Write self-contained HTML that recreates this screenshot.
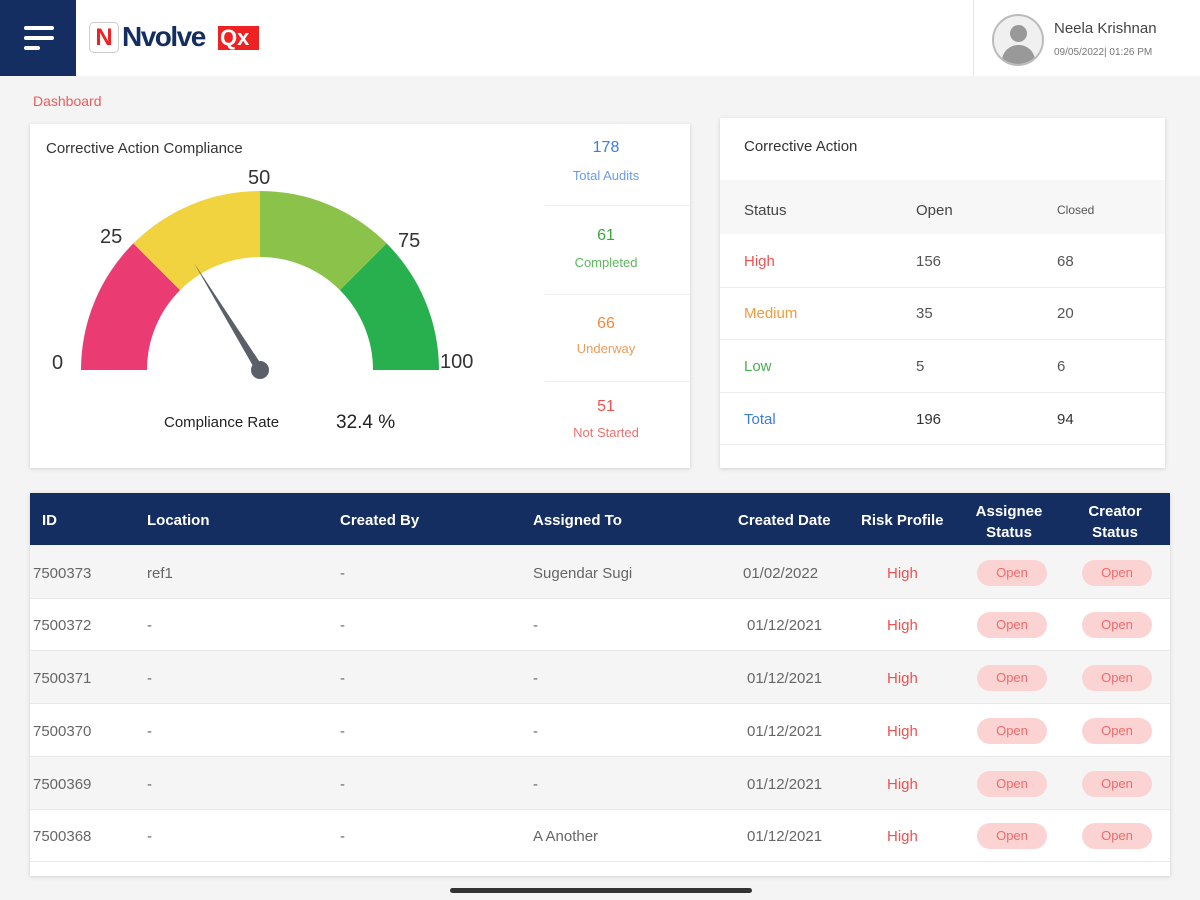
<!DOCTYPE html>
<html><head><meta charset="utf-8"><style>
*{margin:0;padding:0;box-sizing:border-box}
body{width:1200px;height:900px;background:#f4f4f4;font-family:"Liberation Sans",sans-serif;position:relative;overflow:hidden;color:#333}
.abs{position:absolute}
.hdr{left:0;top:0;width:1200px;height:76px;background:#fff}
.menu{left:0;top:0;width:76px;height:76px;background:#152e62}
.bar{background:#fff;height:4px;border-radius:2px;position:absolute;left:24px}
.card{background:#fff;box-shadow:0 1px 4px rgba(0,0,0,.15)}
.t{position:absolute;white-space:nowrap}
.pill{position:absolute;width:70px;height:26px;border-radius:13px;background:#fcd3d3;color:#f06a6a;font-size:13px;text-align:center;line-height:26px}
</style></head><body>
<div class="abs hdr"></div>
<div class="abs menu"><div class="bar" style="top:26px;width:30px"></div><div class="bar" style="top:36px;width:30px"></div><div class="bar" style="top:46px;width:16px"></div></div>
<div class="abs" style="left:89px;top:22px;width:30px;height:31px;border:1px solid #ccc;border-radius:5px;background:#fff;color:#e22;font-weight:bold;font-size:24px;text-align:center;line-height:30px">N</div>
<div class="t" style="left:122px;top:21px;font-size:28px;font-weight:bold;color:#152e62;letter-spacing:-1.5px">Nvolve</div>
<div class="t" style="left:218px;top:26px;width:41px;height:24px;background:#e22;color:#fff;font-size:22px;font-weight:bold;line-height:24px;padding-left:2px">Qx</div>
<div class="abs" style="left:973px;top:0;width:1px;height:76px;background:#e6e6e6"></div>
<div class="abs" style="left:992px;top:14px;width:52px;height:52px;border-radius:50%;border:2px solid #bbb;background:#f0f0f0;overflow:hidden"><div class="abs" style="left:16px;top:9px;width:17px;height:17px;border-radius:50%;background:#999"></div><div class="abs" style="left:8px;top:29px;width:33px;height:24px;border-radius:16px 16px 0 0;background:#999"></div></div>
<div class="t" style="left:1054px;top:20px;font-size:15px;color:#444">Neela Krishnan</div>
<div class="t" style="left:1054px;top:47px;font-size:10px;color:#777">09/05/2022| 01:26 PM</div>
<div class="t" style="left:33px;top:93px;font-size:14px;color:#f05a5a">Dashboard</div>

<div class="abs card" style="left:30px;top:124px;width:660px;height:344px"></div>
<div class="t" style="left:46px;top:140px;font-size:15px;color:#333">Corrective Action Compliance</div>
<svg class="abs" style="left:30px;top:124px" width="520" height="344">
<g transform="translate(230,246)">
<path d="M-179,0 A179,179 0 0 1 -126.6,-126.6 L-79.9,-79.9 A113,113 0 0 0 -113,0Z" fill="#ea3c73"/>
<path d="M-126.6,-126.6 A179,179 0 0 1 0,-179 L0,-113 A113,113 0 0 0 -79.9,-79.9Z" fill="#f0d33e"/>
<path d="M0,-179 A179,179 0 0 1 126.6,-126.6 L79.9,-79.9 A113,113 0 0 0 0,-113Z" fill="#8bc34a"/>
<path d="M126.6,-126.6 A179,179 0 0 1 179,0 L113,0 A113,113 0 0 0 79.9,-79.9Z" fill="#28b04e"/>
<polygon points="-66,-107 -3,3 3,-3" fill="#5a5f68"/>
<circle cx="0" cy="0" r="9" fill="#5a5f68"/>
</g>
<g font-size="20" fill="#333" font-family="Liberation Sans,sans-serif">
<text x="22" y="245">0</text><text x="70" y="119">25</text><text x="218" y="60">50</text><text x="368" y="123">75</text><text x="410" y="244">100</text>
</g>
<text x="134" y="303" font-size="15" fill="#222" font-family="Liberation Sans,sans-serif">Compliance Rate</text>
<text x="306" y="304" font-size="19" fill="#222" font-family="Liberation Sans,sans-serif">32.4 %</text>
</svg>
<div class="abs" style="left:545px;top:205px;width:145px;height:1px;background:#eee"></div>
<div class="abs" style="left:545px;top:294px;width:145px;height:1px;background:#eee"></div>
<div class="abs" style="left:545px;top:381px;width:145px;height:1px;background:#eee"></div>
<div class="t" style="left:545px;width:122px;text-align:center;top:139px;font-size:16px;color:#3b7ddd">178</div>
<div class="t" style="left:545px;width:122px;text-align:center;top:168px;font-size:13px;color:#6b9ce6">Total Audits</div>
<div class="t" style="left:545px;width:122px;text-align:center;top:227px;font-size:16px;color:#3aa640">61</div>
<div class="t" style="left:545px;width:122px;text-align:center;top:255px;font-size:13px;color:#5cb85c">Completed</div>
<div class="t" style="left:545px;width:122px;text-align:center;top:315px;font-size:16px;color:#f08a3c">66</div>
<div class="t" style="left:545px;width:122px;text-align:center;top:341px;font-size:13px;color:#f39a5a">Underway</div>
<div class="t" style="left:545px;width:122px;text-align:center;top:398px;font-size:16px;color:#f05050">51</div>
<div class="t" style="left:545px;width:122px;text-align:center;top:425px;font-size:13px;color:#f07070">Not Started</div>

<div class="abs card" style="left:720px;top:118px;width:445px;height:350px"></div>
<div class="t" style="left:744px;top:138px;font-size:15px;color:#333">Corrective Action</div>
<div class="abs" style="left:720px;top:180px;width:445px;height:54px;background:#f7f7f7"></div>
<div class="t" style="left:744px;top:202px;font-size:15px;color:#444">Status</div>
<div class="t" style="left:916px;top:202px;font-size:15px;color:#444">Open</div>
<div class="t" style="left:1057px;top:203px;font-size:12px;color:#555">Closed</div>
<div class="abs" style="left:720px;top:287px;width:445px;height:1px;background:#eee"></div>
<div class="abs" style="left:720px;top:339px;width:445px;height:1px;background:#eee"></div>
<div class="abs" style="left:720px;top:392px;width:445px;height:1px;background:#eee"></div>
<div class="abs" style="left:720px;top:444px;width:445px;height:1px;background:#eee"></div>
<div class="t" style="left:744px;top:253px;font-size:15px;color:#f05050">High</div><div class="t" style="left:916px;top:253px;font-size:15px;color:#555">156</div><div class="t" style="left:1057px;top:253px;font-size:15px;color:#555">68</div>
<div class="t" style="left:744px;top:305px;font-size:15px;color:#f39a3c">Medium</div><div class="t" style="left:916px;top:305px;font-size:15px;color:#555">35</div><div class="t" style="left:1057px;top:305px;font-size:15px;color:#555">20</div>
<div class="t" style="left:744px;top:358px;font-size:15px;color:#4caf50">Low</div><div class="t" style="left:916px;top:358px;font-size:15px;color:#555">5</div><div class="t" style="left:1057px;top:358px;font-size:15px;color:#555">6</div>
<div class="t" style="left:744px;top:411px;font-size:15px;color:#3b7ddd">Total</div><div class="t" style="left:916px;top:411px;font-size:15px;color:#333">196</div><div class="t" style="left:1057px;top:411px;font-size:15px;color:#333">94</div>

<div class="abs card" style="left:30px;top:493px;width:1140px;height:383px"></div>
<div class="abs" style="left:30px;top:493px;width:1140px;height:52px;background:#152e62"></div>
<div style="color:#fff;font-size:15px;font-weight:bold">
<div class="t" style="left:42px;top:512px">ID</div>
<div class="t" style="left:147px;top:512px">Location</div>
<div class="t" style="left:340px;top:512px">Created By</div>
<div class="t" style="left:533px;top:512px">Assigned To</div>
<div class="t" style="left:738px;top:512px">Created Date</div>
<div class="t" style="left:861px;top:512px">Risk Profile</div>
<div class="t" style="left:974px;top:501px;text-align:center;width:70px;line-height:21px">Assignee<br>Status</div>
<div class="t" style="left:1080px;top:501px;text-align:center;width:70px;line-height:21px">Creator<br>Status</div>
</div>
<div class="abs" style="left:30px;top:545px;width:1140px;height:53px;background:#f5f5f5"></div>
<div class="abs" style="left:30px;top:650px;width:1140px;height:53px;background:#f5f5f5"></div>
<div class="abs" style="left:30px;top:756px;width:1140px;height:53px;background:#f5f5f5"></div>
<div class="abs" style="left:30px;top:598px;width:1140px;height:1px;background:#e8e8e8"></div>
<div class="abs" style="left:30px;top:650px;width:1140px;height:1px;background:#e8e8e8"></div>
<div class="abs" style="left:30px;top:703px;width:1140px;height:1px;background:#e8e8e8"></div>
<div class="abs" style="left:30px;top:756px;width:1140px;height:1px;background:#e8e8e8"></div>
<div class="abs" style="left:30px;top:809px;width:1140px;height:1px;background:#e8e8e8"></div>
<div class="abs" style="left:30px;top:861px;width:1140px;height:1px;background:#e8e8e8"></div>
<div style="font-size:15px;color:#666">
<div class="t" style="left:33px;top:565px">7500373</div><div class="t" style="left:147px;top:565px">ref1</div><div class="t" style="left:340px;top:565px">-</div><div class="t" style="left:533px;top:565px">Sugendar Sugi</div><div class="t" style="left:743px;top:565px">01/02/2022</div>
<div class="t" style="left:33px;top:617px">7500372</div><div class="t" style="left:147px;top:617px">-</div><div class="t" style="left:340px;top:617px">-</div><div class="t" style="left:533px;top:617px">-</div><div class="t" style="left:747px;top:617px">01/12/2021</div>
<div class="t" style="left:33px;top:670px">7500371</div><div class="t" style="left:147px;top:670px">-</div><div class="t" style="left:340px;top:670px">-</div><div class="t" style="left:533px;top:670px">-</div><div class="t" style="left:747px;top:670px">01/12/2021</div>
<div class="t" style="left:33px;top:723px">7500370</div><div class="t" style="left:147px;top:723px">-</div><div class="t" style="left:340px;top:723px">-</div><div class="t" style="left:533px;top:723px">-</div><div class="t" style="left:747px;top:723px">01/12/2021</div>
<div class="t" style="left:33px;top:776px">7500369</div><div class="t" style="left:147px;top:776px">-</div><div class="t" style="left:340px;top:776px">-</div><div class="t" style="left:533px;top:776px">-</div><div class="t" style="left:747px;top:776px">01/12/2021</div>
<div class="t" style="left:33px;top:828px">7500368</div><div class="t" style="left:147px;top:828px">-</div><div class="t" style="left:340px;top:828px">-</div><div class="t" style="left:533px;top:828px">A Another</div><div class="t" style="left:747px;top:828px">01/12/2021</div>
</div>
<div style="font-size:15px;color:#f05050">
<div class="t" style="left:887px;top:565px">High</div><div class="t" style="left:887px;top:617px">High</div><div class="t" style="left:887px;top:670px">High</div><div class="t" style="left:887px;top:723px">High</div><div class="t" style="left:887px;top:776px">High</div><div class="t" style="left:887px;top:828px">High</div>
</div>
<div class="pill" style="left:977px;top:560px">Open</div><div class="pill" style="left:1082px;top:560px">Open</div>
<div class="pill" style="left:977px;top:612px">Open</div><div class="pill" style="left:1082px;top:612px">Open</div>
<div class="pill" style="left:977px;top:665px">Open</div><div class="pill" style="left:1082px;top:665px">Open</div>
<div class="pill" style="left:977px;top:718px">Open</div><div class="pill" style="left:1082px;top:718px">Open</div>
<div class="pill" style="left:977px;top:771px">Open</div><div class="pill" style="left:1082px;top:771px">Open</div>
<div class="pill" style="left:977px;top:823px">Open</div><div class="pill" style="left:1082px;top:823px">Open</div>
<div class="abs" style="left:450px;top:888px;width:302px;height:5px;border-radius:3px;background:#333"></div>
</body></html>
